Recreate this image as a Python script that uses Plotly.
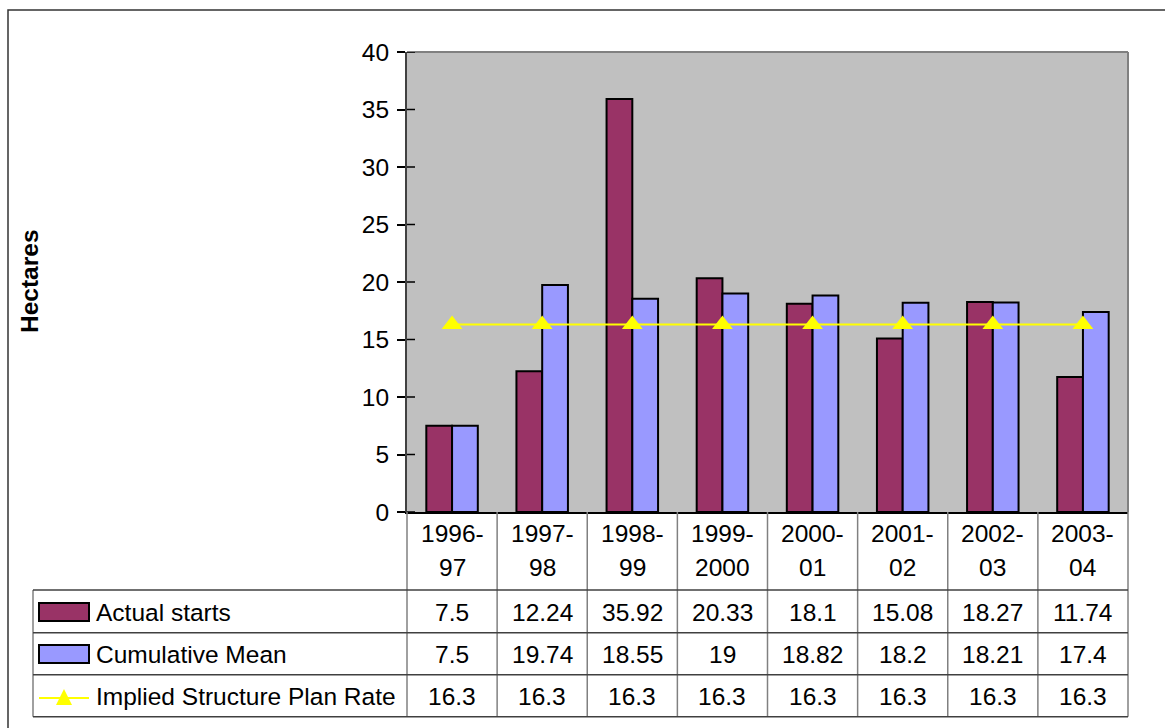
import plotly.graph_objects as go

# ---- data ----
periods = ["1996-97", "1997-98", "1998-99", "1999-2000", "2000-01", "2001-02", "2002-03", "2003-04"]
actual_starts = [7.5, 12.24, 35.92, 20.33, 18.1, 15.08, 18.27, 11.74]
cumulative_mean = [7.5, 19.74, 18.55, 19, 18.82, 18.2, 18.21, 17.4]
plan_rate = [16.3, 16.3, 16.3, 16.3, 16.3, 16.3, 16.3, 16.3]
y_ticks = [0, 5, 10, 15, 20, 25, 30, 35, 40]

series_names = ["Actual starts", "Cumulative Mean", "Implied Structure Plan Rate"]
RED = "#993366"
BLUE = "#9999FF"
YELLOW = "#FFFF00"

# ---- page geometry (pixels) ----
W, H = 1165, 728
PL, PR, PT, PB = 407, 1128, 52, 512          # plot area
ROW_Y = [590, 632.7, 674.7, 716.7]           # table row boundaries
LEG_X0 = 33                                   # left edge of the legend column
FONT = "Liberation Sans, Arial, sans-serif"
FS = 24.5


def px(x):
    return (x - PL) / (PR - PL)


def py(y):
    return (PB - y) / (PB - PT)


fig = go.Figure()
fig.add_trace(go.Bar(x=periods, y=actual_starts, name=series_names[0],
                     marker=dict(color=RED, line=dict(color="black", width=2))))
fig.add_trace(go.Bar(x=periods, y=cumulative_mean, name=series_names[1],
                     marker=dict(color=BLUE, line=dict(color="black", width=2))))
fig.add_trace(go.Scatter(x=periods, y=plan_rate, name=series_names[2], mode="lines+markers",
                         line=dict(color=YELLOW, width=2),
                         marker=dict(symbol="triangle-up", size=18, color=YELLOW)))

shapes = []
annotations = []

# outer chart border
shapes.append(dict(type="rect", xref="paper", yref="paper",
                   x0=px(8), x1=px(1175), y0=py(740), y1=py(10),
                   line=dict(color="#333333", width=1.5), fillcolor="rgba(0,0,0,0)"))
# plot-area border (top and right)
shapes.append(dict(type="line", xref="paper", yref="paper", x0=0, x1=1, y0=1, y1=1,
                   line=dict(color="#808080", width=2)))
shapes.append(dict(type="line", xref="paper", yref="paper", x0=1, x1=1, y0=0, y1=1,
                   line=dict(color="#808080", width=2)))
# inner half of the crossing tick marks on the value axis
for t in y_ticks:
    shapes.append(dict(type="line", xref="paper", yref="y", x0=0, x1=px(PL + 8),
                       y0=t, y1=t, line=dict(color="black", width=1.5)))

# data table grid
n = len(periods)
for k in range(n + 1):
    xx = k / n
    shapes.append(dict(type="line", xref="paper", yref="paper", x0=xx, x1=xx,
                       y0=py(PB), y1=py(ROW_Y[-1]), line=dict(color="#808080", width=1.5)))
shapes.append(dict(type="line", xref="paper", yref="paper", x0=px(LEG_X0), x1=px(LEG_X0),
                   y0=py(ROW_Y[0]), y1=py(ROW_Y[-1]), line=dict(color="#808080", width=1.5)))
for yy in ROW_Y:
    shapes.append(dict(type="line", xref="paper", yref="paper", x0=px(LEG_X0), x1=1,
                       y0=py(yy), y1=py(yy), line=dict(color="#404040", width=1.5)))

# category labels (two lines each)
for p in periods:
    head, tail = p.split("-", 1)
    for txt, yy in ((head + "-", 533), (tail, 567)):
        annotations.append(dict(x=p, xref="x", y=py(yy), yref="paper", text=txt,
                                showarrow=False, xanchor="center", yanchor="middle",
                                font=dict(family=FONT, size=FS, color="black")))

# table values
row_centres = [612, 654, 696]
for series, yy in zip((actual_starts, cumulative_mean, plan_rate), row_centres):
    for p, v in zip(periods, series):
        annotations.append(dict(x=p, xref="x", y=py(yy), yref="paper", text=f"{v:g}",
                                showarrow=False, xanchor="center", yanchor="middle",
                                font=dict(family=FONT, size=FS, color="black")))

# legend keys and names in the first column
for name, yy in zip(series_names, row_centres):
    annotations.append(dict(x=px(94), xref="paper", y=py(yy), yref="paper", text=name,
                            showarrow=False, xanchor="left", yanchor="middle",
                            font=dict(family=FONT, size=FS, color="black")))
for colr, yy in ((RED, row_centres[0]), (BLUE, row_centres[1])):
    shapes.append(dict(type="rect", xref="paper", yref="paper",
                       x0=px(39), x1=px(89), y0=py(yy + 9), y1=py(yy - 9),
                       fillcolor=colr, line=dict(color="black", width=2)))
shapes.append(dict(type="line", xref="paper", yref="paper", x0=px(39), x1=px(89),
                   y0=py(row_centres[2] + 2), y1=py(row_centres[2] + 2),
                   line=dict(color=YELLOW, width=2)))
shapes.append(dict(type="path", xref="paper", yref="paper",
                   path=(f"M {px(56)} {py(row_centres[2] + 9)} L {px(72)} {py(row_centres[2] + 9)} "
                         f"L {px(64)} {py(row_centres[2] - 7)} Z"),
                   fillcolor=YELLOW, line=dict(color=YELLOW, width=0)))

# y axis title
annotations.append(dict(x=px(29), xref="paper", y=py(281), yref="paper", text="<b>Hectares</b>",
                        textangle=-90, showarrow=False, xanchor="center", yanchor="middle",
                        font=dict(family=FONT, size=24.5, color="black")))

fig.update_layout(
    width=W, height=H,
    margin=dict(l=PL, r=W - PR, t=PT, b=H - PB, pad=0),
    paper_bgcolor="white", plot_bgcolor="#C0C0C0",
    barmode="group", bargap=0.4286, bargroupgap=0,
    showlegend=False,
    xaxis=dict(type="category", range=[-0.5, n - 0.5], showticklabels=False, ticks="",
               showgrid=False, zeroline=False, showline=True, linecolor="black", linewidth=1.5),
    yaxis=dict(range=[0, 40], tickvals=y_ticks, ticks="outside", ticklen=8, tickwidth=1.5,
               tickcolor="black", showgrid=False, zeroline=False, showline=True,
               linecolor="#404040", linewidth=2, ticklabelstandoff=3,
               tickfont=dict(family=FONT, size=FS, color="black")),
    shapes=shapes,
    annotations=annotations,
    font=dict(family=FONT),
)

fig.write_html("out.html")
